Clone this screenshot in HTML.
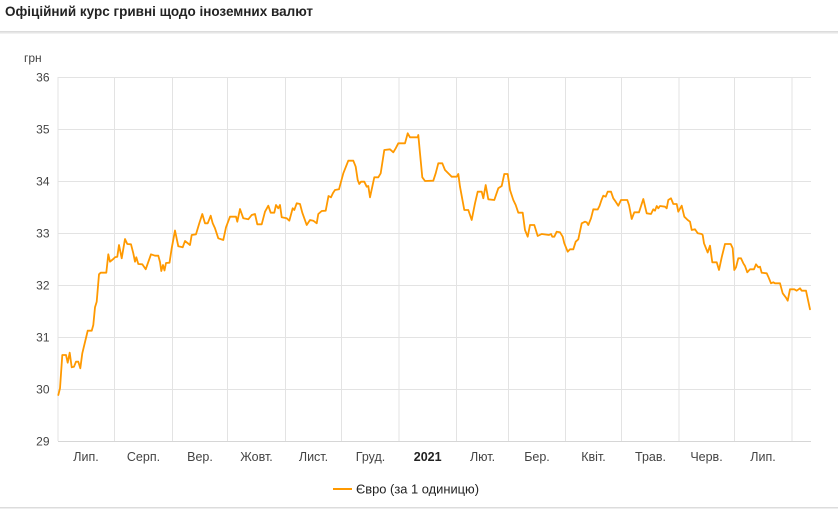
<!DOCTYPE html>
<html>
<head>
<meta charset="utf-8">
<style>
html,body{margin:0;padding:0;background:#fff;}
svg{display:block;}
text{font-family:"Liberation Sans","DejaVu Sans",sans-serif;}
</style>
</head>
<body>
<svg width="838" height="515" viewBox="0 0 838 515" xmlns="http://www.w3.org/2000/svg">
<rect x="0" y="0" width="838" height="515" fill="#fff"/>
<!-- title -->
<text x="5" y="16" font-size="14" font-weight="bold" fill="#222" textLength="308" lengthAdjust="spacingAndGlyphs">Офіційний курс гривні щодо іноземних валют</text>
<rect x="0" y="31" width="838" height="1.5" fill="#dcdcdc"/>
<rect x="0" y="32.5" width="838" height="1.5" fill="#f1f1f1"/>

<!-- grid horizontal -->
<g stroke="#e3e3e3" stroke-width="1">
<line x1="58" y1="77.5" x2="811" y2="77.5"/>
<line x1="58" y1="129.5" x2="811" y2="129.5"/>
<line x1="58" y1="181.5" x2="811" y2="181.5"/>
<line x1="58" y1="233.5" x2="811" y2="233.5"/>
<line x1="58" y1="285.5" x2="811" y2="285.5"/>
<line x1="58" y1="337.5" x2="811" y2="337.5"/>
<line x1="58" y1="389.5" x2="811" y2="389.5"/>
<!-- vertical -->
<line x1="58" y1="77" x2="58" y2="441"/>
<line x1="114.5" y1="77" x2="114.5" y2="441"/>
<line x1="172.5" y1="77" x2="172.5" y2="441"/>
<line x1="227.5" y1="77" x2="227.5" y2="441"/>
<line x1="285.5" y1="77" x2="285.5" y2="441"/>
<line x1="341.5" y1="77" x2="341.5" y2="441"/>
<line x1="399" y1="77" x2="399" y2="441"/>
<line x1="456.5" y1="77" x2="456.5" y2="441"/>
<line x1="508.5" y1="77" x2="508.5" y2="441"/>
<line x1="565.5" y1="77" x2="565.5" y2="441"/>
<line x1="621.5" y1="77" x2="621.5" y2="441"/>
<line x1="679" y1="77" x2="679" y2="441"/>
<line x1="734.5" y1="77" x2="734.5" y2="441"/>
<line x1="792" y1="77" x2="792" y2="441"/>
</g>
<line x1="58" y1="441.5" x2="811" y2="441.5" stroke="#d6d6d6" stroke-width="1"/>

<!-- y labels -->
<g font-size="12" fill="#444" text-anchor="end">
<text x="49.5" y="81.5">36</text>
<text x="49.5" y="133.5">35</text>
<text x="49.5" y="185.5">34</text>
<text x="49.5" y="237.5">33</text>
<text x="49.5" y="289.5">32</text>
<text x="49.5" y="341.5">31</text>
<text x="49.5" y="393.5">30</text>
<text x="49.5" y="445.5">29</text>
</g>
<text x="24" y="62" font-size="12" fill="#444">грн</text>

<!-- x labels -->
<g font-size="12.5" fill="#444" text-anchor="middle">
<text x="86" y="461">Лип.</text>
<text x="143.5" y="461">Серп.</text>
<text x="200" y="461">Вер.</text>
<text x="256.5" y="461">Жовт.</text>
<text x="313.5" y="461">Лист.</text>
<text x="370.5" y="461">Груд.</text>
<text x="427.7" y="461" font-weight="bold" fill="#222">2021</text>
<text x="482.5" y="461">Лют.</text>
<text x="537" y="461">Бер.</text>
<text x="593.5" y="461">Квіт.</text>
<text x="650.5" y="461">Трав.</text>
<text x="706.5" y="461">Черв.</text>
<text x="763" y="461">Лип.</text>
</g>

<!-- series -->
<polyline fill="none" stroke="#ff9900" stroke-width="1.8" stroke-linejoin="round" stroke-linecap="round" points="
58.3,395 60,388.3 62.3,355 66,355 67.7,362.7 69.7,352.7 71.7,367.3 74,366.7 76,361.7 78.3,361.7 80.3,368.3 82.3,353.3 86.7,335 87.7,330.7 91.7,330.7 93.3,325 95,307.3 96.7,301.7 99,274.3 100.7,272.7 106.3,272.7 108.3,254.3 110,261.7 113.3,259 115,257.3 117.3,256.7 119,245 121.7,258.3 125,239 127.3,244 131,244.3 133.3,253.3 135,261.7 136.3,257.3 138.3,264 142.3,264.3 145.7,269.3 151,254.3 155,255.7 158.3,255.7 160,262 161.3,271 163,265 164.5,270.5 166,263 169.5,262.7 171.7,248.3 175,230.5 178.3,246.3 182.7,247.3 185,241 190,245 191.7,235 196,234.3 199.3,223.3 202.3,214 205,223.3 207.7,223.3 210.7,215.7 212.7,223.3 215,228.3 218.3,238.3 223.3,240 226,227.3 230,216.7 236,216.7 237.3,221.7 240,209 243.3,218.3 248.3,219.3 251.7,215 255,214 257.3,224.3 261.7,224.3 265,211.7 268.3,205.7 270.7,212.7 274.3,212.7 276,205 278.3,208.3 280,205 281.7,217.3 286.7,218.3 289.3,220.7 292.7,208.3 294.3,210 296.7,203.3 300,204 302.3,212.7 306.7,225 310,220 313.3,220.7 316.7,223.3 318.3,214 321.7,211 325.7,210.7 328.5,196 331,197.3 333,193 335,190 339,189.3 343.3,173.3 348.3,160.7 353.3,160.7 355.7,166.7 357.7,180 359.3,184 361,181.7 364.3,181.7 366.7,186.7 368.3,186 370,197.3 374.3,177.3 378.3,177.3 380.7,173.3 384.3,150 390,149.3 393.3,152.3 395.7,148.3 398.3,143.3 405,143.3 407.7,133.3 410,137.3 417.7,137.3 418.3,135 420,153.3 422.3,177.3 425,181 433.3,180.7 435.7,173.3 438.3,163.3 442.3,163.3 445,170 450,175 451.7,176.7 456.7,176.7 458.3,174 460,186.7 464.3,210 468.3,210 471.7,220 475,203.3 477.7,191.7 481.7,191.7 483.3,198.3 485.7,185 488.3,199.3 494.3,200 498.3,188.3 501.7,186 504.3,174 507.7,174 510,190 513.3,200 515.7,205 518.3,212.7 522.7,212.7 525,230 527.7,236.7 530,225 534.3,225 537.7,236 541.7,234 549,235 551,234 552.3,236.7 554.3,236.7 556.7,231.7 560,232.3 562.7,236.7 564.3,243.3 567.7,251.7 570,249.3 573.3,249.3 575.7,241.7 578.3,239.3 581.7,223.3 585,221.7 586.7,222.3 588.3,225 591,218.3 593.3,209.3 597.7,209.5 599.5,206 601.5,200 603.3,195.7 605.7,196.7 607.7,191.7 611,191.7 613.3,198.3 615.7,201.7 618.3,205.7 621,200 627.3,200 629,205 631.7,219 634.3,212.3 639,212.3 643.3,199 646.7,213.3 651,214 653.3,209.3 655,210.7 656.7,206 658.3,208.3 660,206 665,206.7 666.7,208.3 668.3,200 671,198.3 673.3,204 676.7,204 678.3,211.7 681.7,205.7 684.3,216.7 687.7,220 690,221.7 691.7,230 695,229.3 697.7,233.3 701.7,234 702.7,235 704,243.3 707.7,252.5 710,245.7 712.3,262.3 716.7,262.3 719,270 721.7,257.3 725,244 730.7,244 732.7,248.3 734.3,270 736,267.3 738.3,258.3 741,258.3 743.3,263.3 745,266 747.3,272.3 750,269.3 754,269.3 756,264.3 758.3,267.3 760,266.7 761.7,272.7 766.7,273.3 768.3,276.7 771,283.3 773.3,282.3 775,283.3 780,283.3 782.7,293.3 786,297.7 787.7,300.7 790,289.3 794.3,289.3 796.7,290.7 800,288.3 801.7,290.7 806,290.7 810,309.3"/>

<!-- legend -->
<line x1="333" y1="489" x2="352" y2="489" stroke="#ff9900" stroke-width="2"/>
<text x="356" y="493.5" font-size="13" fill="#222" textLength="123" lengthAdjust="spacingAndGlyphs">Євро (за 1 одиницю)</text>

<rect x="0" y="507" width="838" height="1.5" fill="#dcdcdc"/>
</svg>
</body>
</html>
